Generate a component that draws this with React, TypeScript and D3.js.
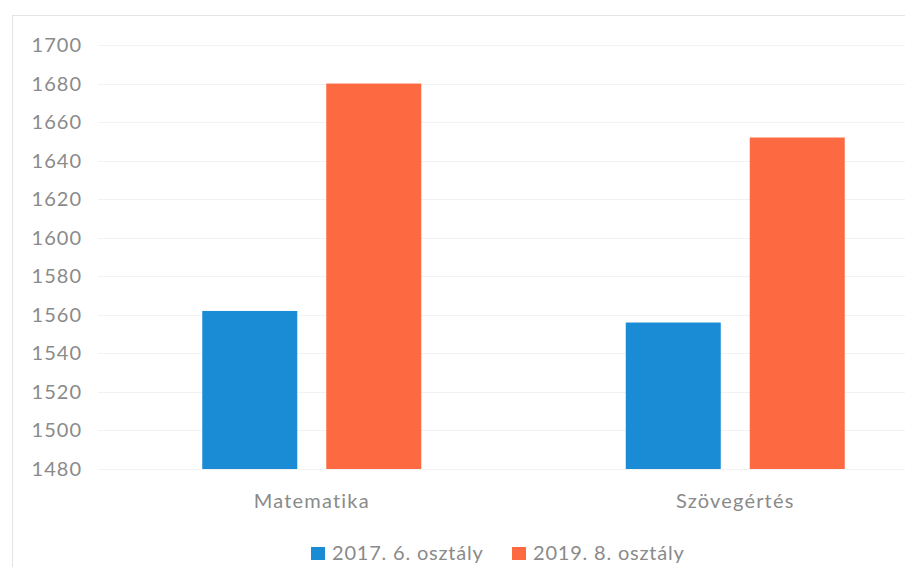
import { useEffect, useRef } from "react";
import * as d3 from "d3";

const categories = ["Matematika", "Szövegértés"];
const seriesNames = ["2017. 6. osztály", "2019. 8. osztály"];
const values2017 = [1562, 1556];
const values2019 = [1680, 1652];
const yTicks = [1480, 1500, 1520, 1540, 1560, 1580, 1600, 1620, 1640, 1660, 1680, 1700];
const colors = ["#1a8cd6", "#fd6a41"];

const W = 905;
const H = 567;
const FONT = "Lato, 'Open Sans', sans-serif";
const TEXT = "#8a8a8a";

export default function App() {
  const ref = useRef<SVGSVGElement>(null);

  useEffect(() => {
    const svg = d3.select(ref.current);
    svg.selectAll("*").remove();

    // frame of the chart (right and bottom edges fall outside the page)
    svg
      .append("rect")
      .attr("x", 12.5)
      .attr("y", 15.5)
      .attr("width", W + 20)
      .attr("height", H + 20)
      .attr("fill", "#fff")
      .attr("stroke", "#e4e4e4");

    const y = d3.scaleLinear().domain([1480, 1700]).range([469, 45]);
    const x0 = d3.scaleBand().domain(categories).range([100, 947]);
    const barW = 95;
    const gap = 29;

    // gridlines
    svg
      .append("g")
      .selectAll("line")
      .data(yTicks)
      .join("line")
      .attr("x1", 98)
      .attr("x2", W)
      .attr("y1", (d) => Math.round(y(d)) + 0.5)
      .attr("y2", (d) => Math.round(y(d)) + 0.5)
      .attr("stroke", "#f2f2f2");

    // tick labels
    svg
      .append("g")
      .selectAll("text")
      .data(yTicks)
      .join("text")
      .attr("x", 82)
      .attr("y", (d) => y(d))
      .attr("dy", "0.35em")
      .attr("text-anchor", "end")
      .attr("font-family", FONT)
      .attr("font-size", 20)
      .attr("letter-spacing", 1)
      .attr("fill", TEXT)
      .text((d) => d);

    const series = [values2017, values2019];
    series.forEach((vals, si) => {
      svg
        .append("g")
        .selectAll("rect")
        .data(categories)
        .join("rect")
        .attr("x", (c) => x0(c)! + x0.bandwidth() / 2 - gap / 2 - barW + si * (barW + gap))
        .attr("y", (_, i) => y(vals[i]))
        .attr("width", barW)
        .attr("height", (_, i) => y(1480) - y(vals[i]))
        .attr("fill", colors[si]);
    });

    // category labels
    svg
      .append("g")
      .selectAll("text")
      .data(categories)
      .join("text")
      .attr("x", (c) => x0(c)! + x0.bandwidth() / 2)
      .attr("y", 508)
      .attr("text-anchor", "middle")
      .attr("font-family", FONT)
      .attr("font-size", 20)
      .attr("letter-spacing", 1.2)
      .attr("fill", TEXT)
      .text((c) => c);

    // legend
    const legendX = [311, 512];
    const lg = svg.append("g");
    seriesNames.forEach((name, i) => {
      lg.append("rect")
        .attr("x", legendX[i])
        .attr("y", 547)
        .attr("width", 14)
        .attr("height", 13)
        .attr("fill", colors[i]);
      lg.append("text")
        .attr("x", legendX[i] + 21)
        .attr("y", 560)
        .attr("font-family", FONT)
        .attr("font-size", 20)
        .attr("letter-spacing", 0.8)
        .attr("fill", TEXT)
        .text(name);
    });
  }, []);

  return (
    <div style={{ position: "fixed", left: 0, top: 0, width: W, height: H, background: "#fff" }}>
      <svg ref={ref} width={W} height={H} style={{ display: "block" }} />
    </div>
  );
}
